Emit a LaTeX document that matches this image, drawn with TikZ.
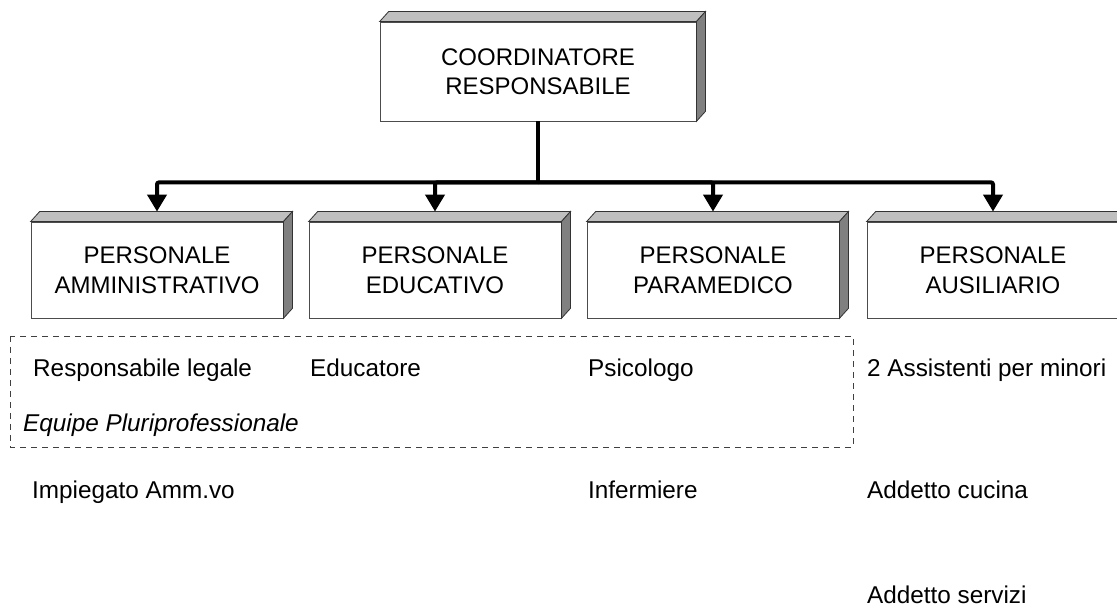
\documentclass[tikz,border=0pt]{standalone}
\usepackage{fontspec}
\setmainfont{Liberation Sans}
\usepackage{tikz}
\usetikzlibrary{arrows.meta}

\tikzset{
  ruolo/.style={shape=rectangle,draw=black!70,line width=0.8pt,fill=white,
    align=center,inner sep=0pt,font=\fontsize{24}{29.5}\selectfont},
  tetto/.style={fill=black!25,draw=black!80,line width=0.8pt},
  fianco/.style={fill=black!50,draw=black!80,line width=0.8pt},
  link/.style={line width=4pt,rounded corners=2pt},
  voce/.style={anchor=base west,inner sep=0pt,font=\fontsize{24.3}{29}\selectfont},
}

\begin{document}
\begin{tikzpicture}[x=1pt,y=-1pt]
            \clip (0,0) rectangle (1117,609);
            \fill[white] (0,0) rectangle (1117,609);
            % caselle
            \node[ruolo,minimum width=316pt,minimum height=99pt] (coord) at (538,71.5) {COORDINATORE\\ RESPONSABILE};
            \node[ruolo,minimum width=252pt,minimum height=96pt] (amm) at (157,270) {PERSONALE\\AMMINISTRATIVO};
            \node[ruolo,minimum width=252pt,minimum height=96pt] (edu) at (435,270) {PERSONALE\\EDUCATIVO};
            \node[ruolo,minimum width=252pt,minimum height=96pt] (para) at (713,270) {PERSONALE\\PARAMEDICO};
            \node[ruolo,minimum width=252pt,minimum height=96pt] (aus) at (993,270) {PERSONALE\\AUSILIARIO};
            % effetto 3D
            \foreach \n in {coord,amm,edu,para,aus} {
              \path[tetto] (\n.north west) -- ++(9,-10) -- ([shift={(9,-10)}]\n.north east) -- (\n.north east) -- cycle;
              \path[fianco] (\n.north east) -- ++(9,-10) -- ([shift={(9,-10)}]\n.south east) -- (\n.south east) -- cycle;
            }
            % collegamenti
            \draw[link] (coord.south) -- ++(0,61) coordinate (bus);
            \foreach \n in {amm,edu,para,aus}
              \draw[link,-{Triangle[length=17pt,width=19pt]}] (bus) -| ([yshift=10pt]\n.north);
            % equipe
            \draw[black!75,line width=0.8pt,dash pattern=on 6pt off 5pt] (10,336) rectangle (853,447);
            \node[voce] (resp) at (33,377) {Responsabile legale};
            \node[voce] (educ) at (310,377) {Educatore};
            \node[voce] (psico) at (588,377) {Psicologo};
            \node[voce] (assist) at (867,377) {2 Assistenti per minori};
            \node[voce,font=\fontsize{24.3}{29}\selectfont\itshape] (equipe) at (23,432) {Equipe Pluriprofessionale};
            \node[voce] (impieg) at (32,498) {Impiegato Amm.vo};
            \node[voce] (inferm) at (588,498) {Infermiere};
            \node[voce] (cucina) at (867,498) {Addetto cucina};
            \node[voce] (servizi) at (867,603) {Addetto servizi};
        \end{tikzpicture}
\end{document}
